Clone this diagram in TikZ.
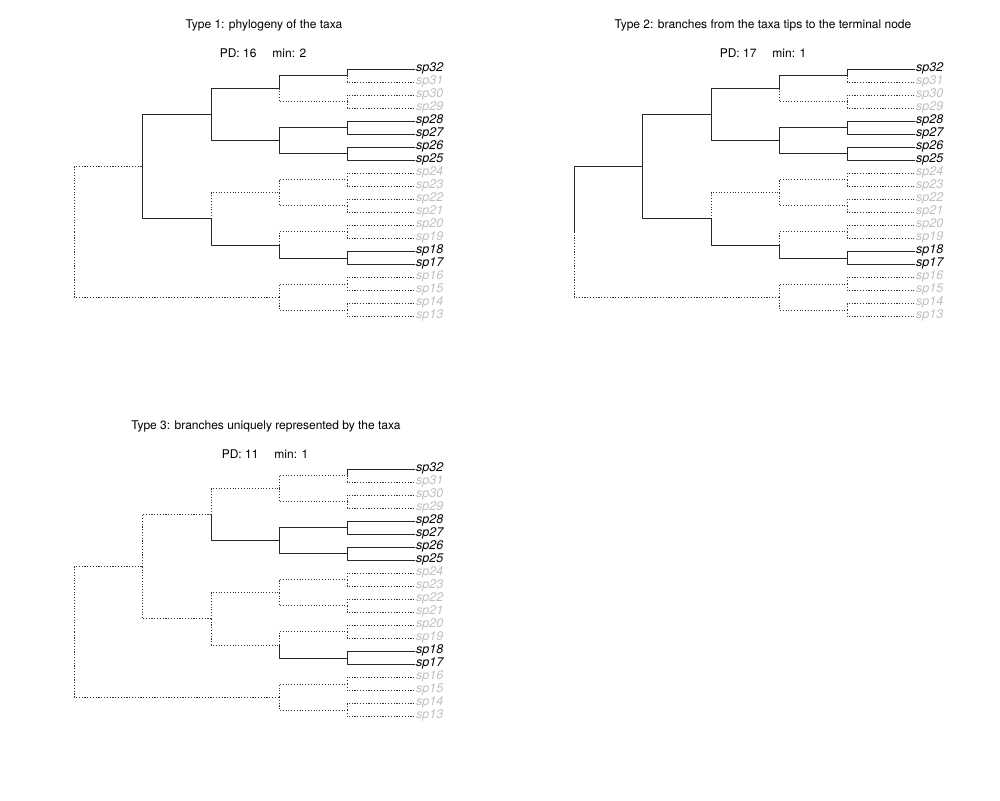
\documentclass[tikz,border=0pt]{standalone}
\usepackage{fontspec}
\setmainfont{TeX Gyre Heros}

\begin{document}
\begin{tikzpicture}[x=1pt, y=-1pt, font=\fontsize{12}{14}\selectfont, line join=round, line cap=round,
	br1/.style={draw=black!85, line width=0.8pt},
	br0/.style={draw=black!80, line width=0.8pt, line cap=butt, dash pattern=on 1.1pt off 1.7pt},
	tip1/.style={anchor=base west, inner sep=1pt, yshift=-2pt, font=\fontsize{12.5}{14}\selectfont\itshape, text=black},
	tip0/.style={tip1, text=black!25}]
	\useasboundingbox (0,0) rectangle (1000,800);
	\foreach \t/\dx/\dy in {A/0/0, B/500/0, C/0/400}{
		\begin{scope}[shift={(\dx,\dy)}]
			\foreach \n/\s [count=\r from 0] in {32/1, 31/0, 30/0, 29/0, 28/1, 27/1, 26/1, 25/1, 24/0, 23/0,
				22/0, 21/0, 20/0, 19/0, 18/1, 17/1, 16/0, 15/0, 14/0, 13/0}{
				\coordinate (\t-t\n) at (415, {69+13.03*\r});
				\node[tip\s] (\t-l\n) at (\t-t\n) {sp\n};
			}
			\foreach \k in {1,...,10} \coordinate (\t-a\k) at (347, {69+13.03*(2*\k-1.5)});
			\foreach \k in {1,...,5} \coordinate (\t-b\k) at (279, {69+13.03*(4*\k-2.5)});
			\coordinate (\t-c1) at (211, {69+13.03*3.5});
			\coordinate (\t-c2) at (211, {69+13.03*11.5});
			\coordinate (\t-d) at (142, {69+13.03*7.5});
			\coordinate (\t-r) at (74, {69+13.03*12.5});
		\end{scope}
	}
	\foreach \p/\c/\ea/\eb/\ec in {a1/t32/1/1/1, a1/t31/0/0/0, a2/t30/0/0/0, a2/t29/0/0/0,
		a3/t28/1/1/1, a3/t27/1/1/1, a4/t26/1/1/1, a4/t25/1/1/1,
		a5/t24/0/0/0, a5/t23/0/0/0, a6/t22/0/0/0, a6/t21/0/0/0,
		a7/t20/0/0/0, a7/t19/0/0/0, a8/t18/1/1/1, a8/t17/1/1/1,
		a9/t16/0/0/0, a9/t15/0/0/0, a10/t14/0/0/0, a10/t13/0/0/0,
		b1/a1/1/1/0, b1/a2/0/0/0, b2/a3/1/1/1, b2/a4/1/1/1, b3/a5/0/0/0, b3/a6/0/0/0,
		b4/a7/0/0/0, b4/a8/1/1/1, b5/a9/0/0/0, b5/a10/0/0/0,
		c1/b1/1/1/0, c1/b2/1/1/1, c2/b3/0/0/0, c2/b4/1/1/0,
		d/c1/1/1/0, d/c2/1/1/0, r/d/0/1/0, r/b5/0/0/0}{
		\draw[br\ea] (A-\p) |- (A-\c);
		\draw[br\eb] (B-\p) |- (B-\c);
		\draw[br\ec] (C-\p) |- (C-\c);
	}
	\node[anchor=base] (A-title) at (264,29) {Type 1: phylogeny of the taxa};
	\node[anchor=base] (A-pd) at (263,58) {PD: 16\hspace{16pt}min: 2};
	\node[anchor=base] (B-title) at (763,29) {Type 2: branches from the taxa tips to the terminal node};
	\node[anchor=base] (B-pd) at (763,58) {PD: 17\hspace{16pt}min: 1};
	\node[anchor=base] (C-title) at (266,429) {Type 3: branches uniquely represented by the taxa};
	\node[anchor=base] (C-pd) at (265,458) {PD: 11\hspace{16pt}min: 1};
\end{tikzpicture}
\end{document}
